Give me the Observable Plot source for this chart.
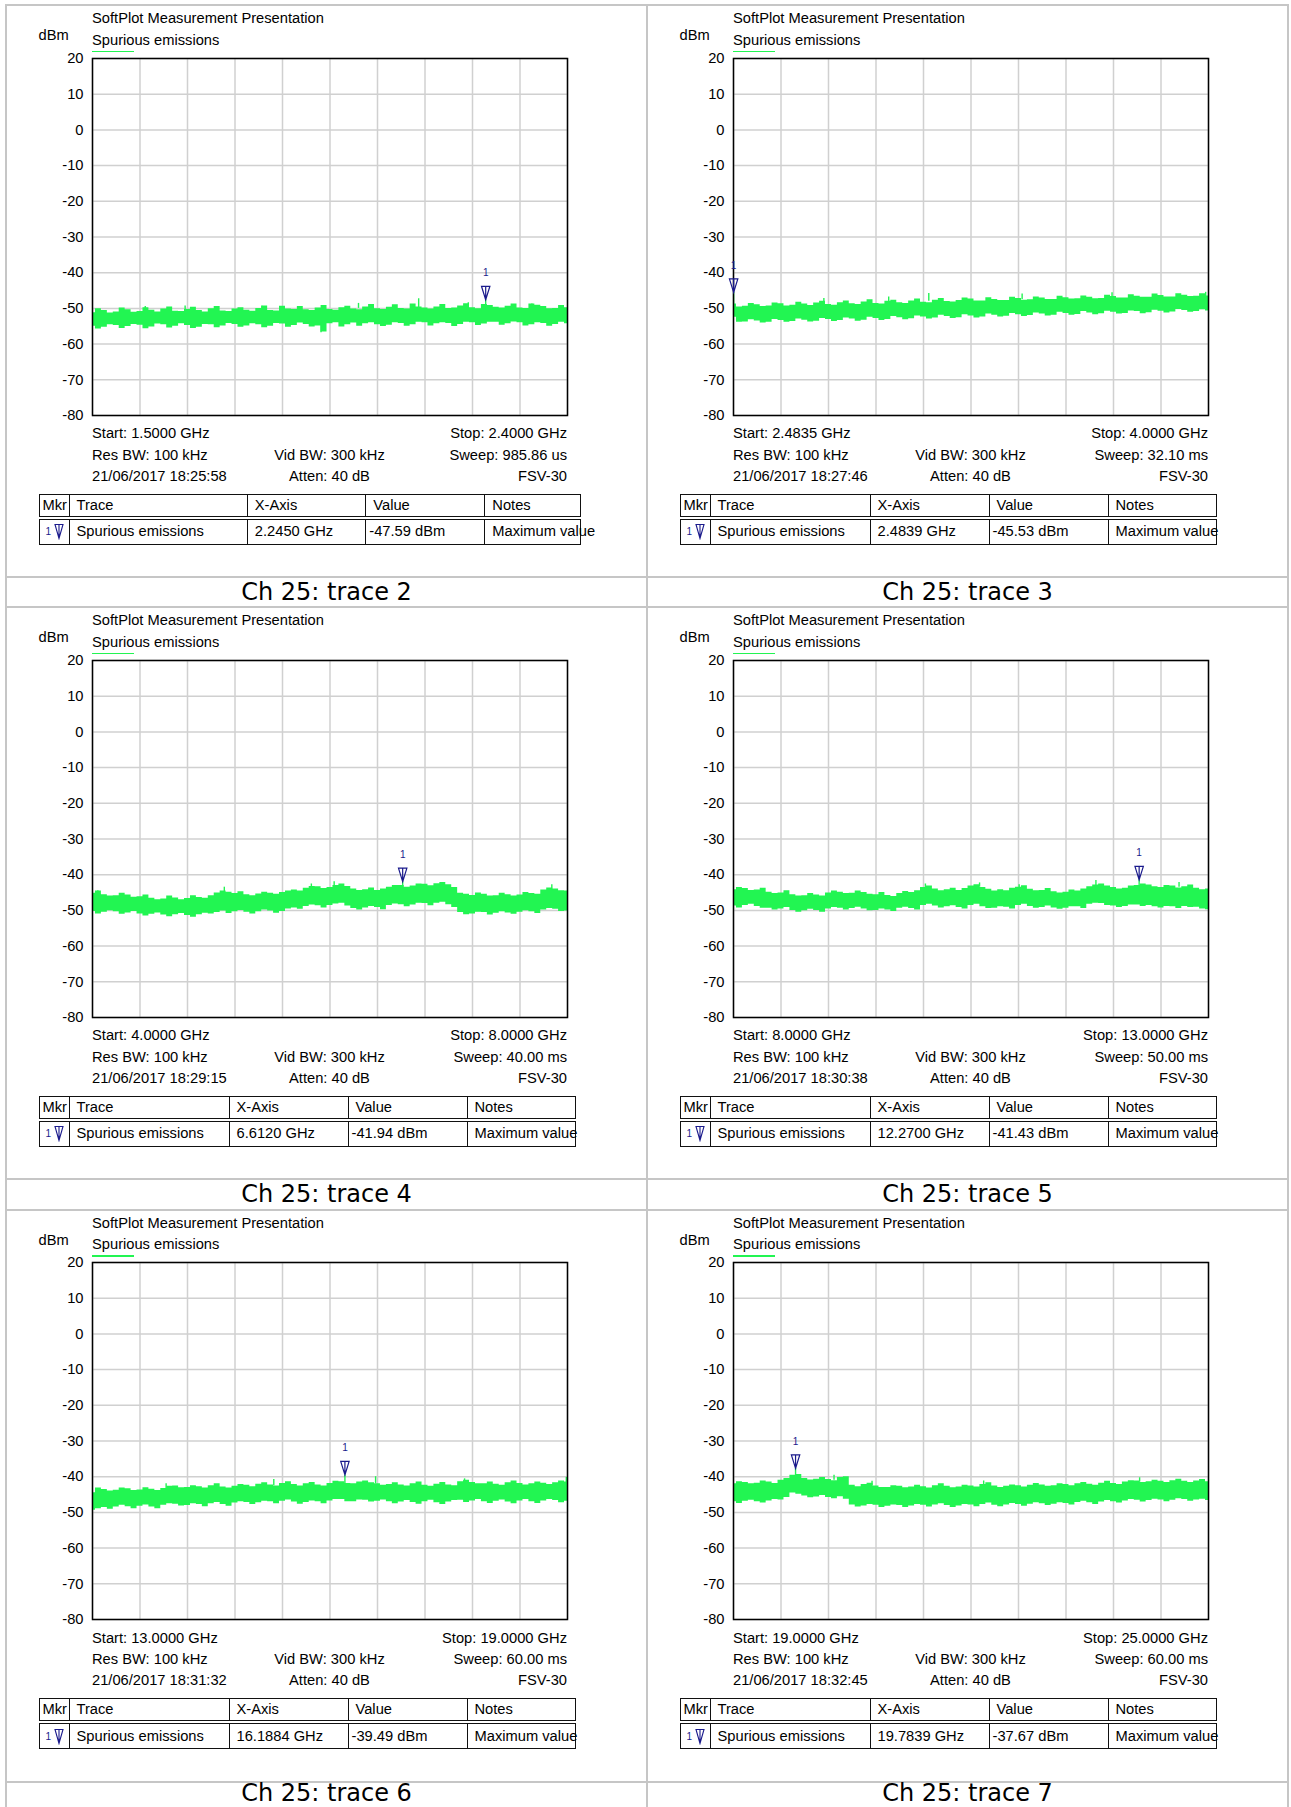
<!DOCTYPE html>
<html><head><meta charset="utf-8">
<script src="https://cdn.jsdelivr.net/npm/d3@7"></script>
<script src="https://cdn.jsdelivr.net/npm/@observablehq/plot@0.6"></script>
<style>
html,body{margin:0;padding:0;background:#fff;overflow:hidden;width:1291px;height:1807px;}
#page{position:relative;width:1291px;height:1807px;overflow:hidden;font-family:"Liberation Sans",Arial,sans-serif;color:#000;background:#fff;}
.ln{position:absolute;background:#c6c6c6;}
.cell{position:absolute;width:641px;height:572px;}
.t{position:absolute;font-size:14.7px;line-height:1;white-space:nowrap;transform:translateY(-50%);}
.cap{position:absolute;font-family:"DejaVu Sans",sans-serif;font-size:24px;line-height:0.78;text-align:center;width:641px;transform:translateY(-50%);}
.uline{position:absolute;height:1.6px;}
.svgwrap{position:absolute;left:0;}
table.mk{position:absolute;border-collapse:collapse;table-layout:fixed;font-size:14.7px;font-family:"Liberation Sans",Arial,sans-serif;}
table.mk td{border:1.5px solid #111;padding:0 0 0 7px;white-space:nowrap;overflow:visible;vertical-align:middle;line-height:1;}
table.mk tr.h td{height:21px;border-bottom:4px double #111;}
table.mk tr.b td{height:24px;}
table.mk td.m{padding-left:6px;}
table.mk tr.h td.m{padding-left:3px;}
</style>
</head><body><div id="page"></div>
<script>
// ---------------- data ----------------
const captions = ["Ch 25: trace 2","Ch 25: trace 3","Ch 25: trace 4","Ch 25: trace 5","Ch 25: trace 6","Ch 25: trace 7"];
const startGHz = [1.5, 2.4835, 4.0, 8.0, 13.0, 19.0];
const stopGHz  = [2.4, 4.0, 8.0, 13.0, 19.0, 25.0];
const sweeps   = ["985.86 us","32.10 ms","40.00 ms","50.00 ms","60.00 ms","60.00 ms"];
const stamps   = ["21/06/2017 18:25:58","21/06/2017 18:27:46","21/06/2017 18:29:15","21/06/2017 18:30:38","21/06/2017 18:31:32","21/06/2017 18:32:45"];
const markerGHz = [2.2450, 2.4839, 6.6120, 12.2700, 16.1884, 19.7839];
const markerDbm = [-47.59, -45.53, -41.94, -41.43, -39.49, -37.67];
const yTicks = [20, 10, 0, -10, -20, -30, -40, -50, -60, -70, -80];

// noise band envelopes (dBm), 81 readings evenly spaced across each sweep span
const trace2Hi = [
 -51.2,-50.1,-50.6,-51.3,-51.0,-49.9,-50.4,-51.1,-50.9,-49.8,
 -50.5,-51.0,-50.2,-49.6,-50.8,-50.9,-50.3,-49.7,-50.6,-51.0,
 -50.1,-49.5,-50.7,-50.9,-50.2,-49.8,-50.5,-50.8,-50.0,-49.3,
 -50.6,-50.7,-49.4,-50.2,-50.3,-49.5,-50.4,-50.6,-49.9,-49.2,
 -50.3,-50.5,-49.8,-49.4,-50.2,-50.4,-49.6,-48.9,-50.1,-50.3,
 -49.7,-49.0,-50.0,-50.2,-48.8,-49.6,-49.9,-50.2,-49.6,-48.9,
 -50.0,-49.9,-49.3,-48.7,-49.8,-50.1,-48.9,-49.2,-49.7,-49.9,
 -49.4,-48.8,-49.9,-50.0,-48.8,-49.1,-49.5,-50.1,-50.0,-49.2,
 -49.8];
const trace2Lo = [
 -55.0,-55.8,-55.3,-54.6,-54.8,-55.6,-55.1,-54.5,-54.7,-55.7,
 -55.2,-54.4,-54.6,-55.5,-55.0,-54.3,-54.8,-55.6,-55.3,-54.5,
 -54.6,-55.4,-54.9,-54.2,-54.5,-55.3,-54.9,-54.3,-54.6,-55.4,
 -55.0,-54.2,-54.4,-55.3,-54.8,-54.1,-54.5,-55.2,-54.9,-56.6,
 -54.3,-54.0,-55.2,-54.6,-54.1,-55.0,-54.3,-54.0,-54.6,-55.1,
 -54.7,-54.0,-54.2,-55.0,-54.6,-53.9,-54.0,-54.9,-54.3,-54.0,
 -54.2,-55.1,-54.5,-53.9,-54.0,-54.8,-54.4,-53.9,-53.9,-54.7,
 -54.3,-53.8,-54.0,-54.9,-54.6,-54.0,-54.2,-55.0,-54.5,-53.9,
 -54.3];
const trace3Hi = [
 -48.8,-49.6,-49.4,-48.6,-49.0,-49.5,-49.3,-48.5,-48.7,-49.3,
 -49.1,-48.3,-48.8,-49.2,-48.5,-48.0,-48.9,-49.1,-48.4,-47.9,
 -48.7,-48.9,-48.2,-47.6,-48.6,-48.8,-48.0,-47.7,-48.4,-48.6,
 -47.9,-47.4,-48.3,-48.4,-47.7,-47.2,-48.1,-48.2,-47.8,-47.1,
 -47.4,-47.9,-47.9,-47.0,-47.5,-47.8,-47.8,-46.9,-47.2,-47.7,
 -47.6,-46.8,-47.1,-47.5,-47.5,-46.6,-47.0,-47.4,-47.3,-46.5,
 -46.9,-47.3,-47.2,-46.3,-46.7,-47.1,-47.1,-46.2,-46.6,-46.9,
 -46.9,-46.0,-46.4,-46.8,-46.8,-45.9,-46.3,-46.7,-46.6,-45.9,
 -46.5];
const trace3Lo = [
 -52.5,-53.9,-53.8,-53.2,-53.5,-54.1,-53.9,-53.1,-53.4,-53.9,
 -53.7,-53.0,-53.3,-53.8,-53.6,-52.8,-53.1,-53.7,-53.4,-52.7,
 -53.0,-53.6,-53.3,-52.5,-52.8,-53.4,-53.1,-52.3,-52.6,-53.2,
 -52.9,-52.1,-52.4,-53.0,-52.7,-51.9,-52.3,-52.8,-52.6,-51.8,
 -52.1,-52.7,-52.4,-51.6,-51.9,-52.4,-52.2,-51.4,-51.8,-52.3,
 -52.0,-51.3,-51.6,-52.1,-51.9,-51.1,-51.4,-51.9,-51.7,-50.9,
 -51.3,-51.8,-51.5,-50.8,-51.1,-51.6,-51.4,-50.7,-50.9,-51.5,
 -51.2,-50.5,-50.8,-51.3,-51.0,-50.3,-50.6,-51.1,-50.9,-50.4,
 -50.7];
const trace4Hi = [
 -45.2,-44.6,-45.6,-46.0,-45.9,-45.2,-45.7,-46.3,-46.2,-45.7,
 -46.6,-47.0,-46.8,-46.0,-46.5,-47.0,-46.7,-45.9,-46.4,-46.6,
 -45.9,-45.1,-44.6,-44.9,-45.3,-44.8,-45.6,-45.9,-45.4,-44.9,
 -45.2,-45.5,-45.0,-44.6,-44.3,-44.6,-43.8,-43.3,-43.4,-43.9,
 -43.6,-43.0,-42.6,-43.3,-44.0,-44.4,-44.2,-43.7,-44.4,-44.0,
 -43.5,-43.0,-43.0,-43.5,-43.2,-42.6,-42.7,-43.1,-42.5,-42.2,
 -42.8,-43.6,-45.2,-45.5,-45.8,-45.1,-45.5,-46.0,-45.9,-45.2,
 -45.6,-46.0,-45.7,-45.0,-45.3,-45.5,-44.3,-43.7,-44.0,-44.5,
 -44.6];
const trace4Lo = [
 -50.3,-51.0,-50.5,-50.1,-50.4,-51.1,-50.7,-50.3,-51.0,-51.6,
 -51.1,-50.7,-51.3,-51.8,-51.2,-50.9,-51.4,-51.9,-51.2,-50.8,
 -51.0,-50.6,-50.2,-50.9,-50.4,-50.0,-50.5,-51.0,-50.4,-49.9,
 -50.2,-50.8,-50.3,-49.6,-49.3,-49.7,-48.9,-48.5,-48.7,-49.3,
 -48.6,-48.2,-48.0,-48.8,-49.5,-49.9,-49.3,-48.9,-49.2,-49.8,
 -48.6,-48.2,-48.4,-49.0,-48.5,-48.0,-48.1,-48.7,-48.0,-47.7,
 -48.4,-49.2,-50.6,-51.2,-51.0,-50.5,-50.6,-51.3,-50.8,-50.4,
 -50.7,-51.1,-50.5,-50.1,-50.4,-50.9,-49.9,-49.5,-49.7,-50.3,
 -50.2];
const trace5Hi = [
 -44.2,-43.6,-43.9,-44.4,-44.3,-43.8,-44.9,-45.3,-45.1,-44.5,
 -45.6,-46.0,-45.9,-45.3,-45.7,-46.0,-45.1,-44.6,-44.9,-45.3,
 -45.2,-44.6,-45.0,-45.5,-45.6,-45.0,-45.8,-46.1,-45.3,-44.7,
 -45.0,-44.5,-43.6,-43.2,-44.0,-44.5,-44.2,-43.8,-44.4,-43.9,
 -43.2,-42.8,-43.6,-44.1,-44.6,-44.2,-44.5,-43.8,-43.5,-43.1,
 -44.1,-44.5,-44.4,-43.9,-44.8,-45.1,-44.9,-44.3,-44.6,-44.0,
 -43.4,-42.9,-42.6,-43.2,-43.6,-44.0,-43.8,-43.2,-43.0,-42.6,
 -42.9,-43.4,-43.6,-43.0,-43.2,-43.7,-43.4,-42.9,-43.8,-44.2,
 -44.0];
const trace5Lo = [
 -48.8,-49.3,-48.6,-48.3,-48.9,-49.4,-49.4,-49.9,-49.6,-49.2,
 -50.0,-50.5,-50.1,-49.7,-50.0,-50.5,-49.6,-49.2,-49.4,-49.9,
 -49.5,-49.1,-49.6,-50.1,-50.0,-49.6,-49.9,-50.3,-49.4,-49.1,
 -49.5,-49.9,-48.6,-48.3,-48.8,-49.3,-49.0,-48.7,-49.2,-49.6,
 -48.6,-48.3,-49.0,-49.5,-49.4,-49.0,-49.1,-49.6,-48.6,-48.3,
 -48.9,-49.4,-49.2,-48.8,-49.3,-49.7,-49.4,-49.0,-49.0,-49.5,
 -48.3,-48.0,-48.1,-48.6,-48.8,-49.2,-48.9,-48.5,-48.5,-48.9,
 -48.6,-49.0,-49.3,-48.9,-49.0,-49.5,-48.9,-49.2,-49.1,-49.6,
 -49.8];
const trace6Hi = [
 -44.5,-43.2,-43.6,-44.0,-43.8,-43.2,-43.4,-43.9,-43.7,-43.1,
 -43.5,-43.9,-43.3,-42.7,-42.6,-43.1,-43.0,-42.5,-42.8,-43.2,
 -42.5,-42.0,-42.9,-43.2,-42.7,-42.2,-42.4,-42.8,-42.1,-41.7,
 -42.3,-42.6,-41.9,-41.4,-42.2,-42.6,-42.0,-41.6,-42.3,-42.6,
 -41.9,-41.3,-41.4,-41.9,-42.0,-41.5,-41.2,-41.7,-42.0,-42.4,
 -42.2,-41.7,-42.3,-42.6,-42.0,-41.5,-42.4,-42.7,-42.1,-41.6,
 -42.3,-42.5,-41.4,-41.0,-41.6,-42.0,-42.0,-41.5,-42.1,-42.4,
 -41.7,-41.2,-41.9,-42.3,-42.0,-41.5,-41.8,-42.2,-41.7,-41.2,
 -41.5];
const trace6Lo = [
 -49.4,-49.0,-48.6,-49.1,-48.5,-48.0,-48.4,-49.0,-48.3,-47.9,
 -48.5,-49.0,-48.0,-47.6,-47.7,-48.2,-48.1,-47.6,-47.8,-48.4,
 -47.6,-47.2,-47.8,-48.3,-47.4,-47.0,-47.2,-47.8,-47.3,-46.9,
 -47.0,-47.6,-46.9,-46.5,-47.1,-47.7,-47.2,-46.8,-47.0,-47.6,
 -46.8,-46.4,-46.4,-47.0,-47.0,-46.5,-46.6,-47.1,-46.9,-46.5,
 -47.0,-47.6,-47.1,-46.7,-47.2,-47.7,-47.0,-46.6,-47.3,-47.8,
 -47.1,-46.7,-46.6,-47.2,-46.8,-46.4,-47.0,-47.5,-46.9,-46.5,
 -47.1,-47.6,-46.8,-46.4,-47.0,-47.5,-46.8,-46.4,-46.7,-47.3,
 -46.9];
const trace7Hi = [
 -42.0,-41.4,-41.6,-42.0,-41.8,-41.2,-41.5,-41.9,-41.0,-40.5,
 -39.6,-39.4,-40.5,-40.9,-40.7,-40.2,-40.8,-41.1,-40.2,-40.0,
 -42.4,-42.8,-42.2,-41.8,-42.6,-43.0,-43.0,-42.5,-42.7,-43.1,
 -42.9,-42.4,-42.8,-43.2,-42.5,-42.0,-42.7,-43.1,-42.9,-42.4,
 -42.6,-42.9,-42.2,-41.7,-42.6,-43.0,-42.7,-42.3,-42.5,-42.9,
 -42.4,-41.9,-42.3,-42.7,-42.5,-42.0,-42.2,-42.5,-42.0,-41.6,
 -42.1,-42.4,-41.8,-41.3,-41.9,-42.2,-41.5,-41.1,-41.2,-41.6,
 -41.4,-41.0,-41.3,-41.6,-41.1,-40.7,-41.3,-41.6,-41.2,-40.8,
 -41.4];
const trace7Lo = [
 -47.0,-47.5,-46.9,-46.6,-47.0,-47.4,-46.8,-46.4,-46.5,-45.8,
 -44.6,-44.9,-45.4,-45.9,-45.7,-45.3,-45.8,-46.2,-45.6,-46.3,
 -47.9,-48.5,-48.2,-47.8,-48.0,-48.6,-48.3,-47.9,-48.1,-48.6,
 -48.2,-47.8,-48.0,-48.5,-47.9,-47.6,-48.1,-48.6,-48.2,-47.8,
 -47.9,-48.4,-47.8,-47.4,-48.0,-48.4,-47.9,-47.5,-47.8,-48.3,
 -47.7,-47.3,-47.6,-48.1,-47.7,-47.3,-47.5,-47.9,-47.2,-46.9,
 -47.3,-47.8,-47.1,-46.7,-47.0,-47.4,-46.8,-46.4,-46.6,-47.1,
 -46.7,-46.3,-46.5,-47.0,-46.6,-46.2,-46.4,-46.9,-46.5,-46.3,
 -46.7];

// isolated spikes: [GHz, from dBm, to dBm]
const trace2Spikes = [[1.600,-50.5,-49.5],[1.6755,-50.5,-49.3],[1.821,-50.5,-49.4],[1.933,-54.0,-56.8],[2.004,-50.0,-48.6],[2.118,-50.5,-47.3],[2.212,-50.0,-48.4],[2.245,-50.0,-47.59],[2.3325,-50.0,-48.8]];
const trace3Spikes = [[2.4839,-52.0,-45.53],[2.772,-49.0,-47.2],[2.979,-48.5,-46.8],[3.107,-48.0,-45.8],[3.405,-47.5,-46.0],[3.692,-47.0,-45.6],[3.991,-47.0,-45.5]];
const trace4Spikes = [[4.045,-46.0,-44.5],[5.11,-45.0,-43.5],[5.843,-44.0,-42.6],[6.035,-43.5,-42.0],[6.612,-44.0,-41.94],[7.868,-44.5,-42.8]];
const trace5Spikes = [[10.02,-44.0,-42.6],[10.59,-43.5,-42.3],[11.007,-44.0,-42.8],[11.815,-43.5,-41.6],[12.27,-43.5,-41.43],[12.69,-43.5,-42.2]];
const trace6Spikes = [[13.93,-43.5,-42.0],[15.29,-42.5,-40.8],[16.1884,-42.0,-39.49],[16.576,-42.0,-40.0],[17.70,-42.0,-40.6],[18.985,-42.0,-40.2]];
const trace7Spikes = [[19.7839,-40.0,-37.67],[20.27,-41.0,-39.6],[20.75,-42.5,-41.3],[22.16,-42.5,-41.2],[24.13,-41.5,-40.3]];

const traceHi = [trace2Hi, trace3Hi, trace4Hi, trace5Hi, trace6Hi, trace7Hi];
const traceLo = [trace2Lo, trace3Lo, trace4Lo, trace5Lo, trace6Lo, trace7Lo];
const traceSpikes = [trace2Spikes, trace3Spikes, trace4Spikes, trace5Spikes, trace6Spikes, trace7Spikes];

// ---------------- drawing ----------------
const GREEN = "#22f552";
const NAVY = "#1a1a8c";
const page = document.getElementById("page");

function el(tag, cls, parent, css, html) {
  const e = document.createElement(tag);
  if (cls) e.className = cls;
  if (css) Object.assign(e.style, css);
  if (html !== undefined) e.innerHTML = html;
  parent.appendChild(e);
  return e;
}

const markerSymbol = {
  draw(ctx) {
    ctx.moveTo(0, 0); ctx.lineTo(-4.2, -13.5); ctx.lineTo(4.2, -13.5); ctx.closePath();
    ctx.moveTo(0, 0); ctx.lineTo(0, -13.5);
  }
};

function chart(i) {
  const s = startGHz[i], e = stopGHz[i], hi = traceHi[i], lo = traceLo[i];
  const n = Math.min(hi.length, lo.length);
  const band = d3.range(n).map(k => ({f: s + k * (e - s) / (n - 1), hi: hi[k], lo: lo[k]}));
  const xt = d3.range(11).map(k => s + k * (e - s) / 10);
  const mk = [{f: markerGHz[i], v: markerDbm[i]}];
  return Plot.plot({
    width: 641, height: 377,
    marginLeft: 86, marginRight: 80, marginTop: 10, marginBottom: 10,
    x: {domain: [s, e], axis: null},
    y: {domain: [-80, 20], axis: null, label: null},
    style: {fontFamily: "Liberation Sans, Arial, sans-serif", fontSize: "14.7px", background: "transparent", overflow: "visible", color: "#000"},
    marks: [
      Plot.gridY(yTicks, {stroke: "#d0d0d0", strokeOpacity: 1, strokeWidth: 1.5}),
      Plot.gridX(xt, {stroke: "#d0d0d0", strokeOpacity: 1, strokeWidth: 1.5}),
      Plot.areaY(band, {x: "f", y1: "lo", y2: "hi", curve: "step", fill: GREEN}),
      Plot.ruleX(traceSpikes[i], {x: d => d[0], y1: d => d[1], y2: d => d[2], stroke: GREEN, strokeWidth: 1.4}),
      Plot.axisY(yTicks, {anchor: "left", tickSize: 0, tickPadding: 9, fontSize: 14.7, label: null, tickFormat: d => String(d)}),
      Plot.frame({stroke: "#000", strokeWidth: 1.5}),
      Plot.dot(mk, {x: "f", y: "v", symbol: markerSymbol, stroke: NAVY, fill: "none", strokeWidth: 1.2, r: 5}),
      Plot.text(mk, {x: "f", y: "v", text: () => "1", dy: -27, fill: NAVY, fontSize: 10})
    ]
  });
}

// page grid lines
const rowTop = r => 5 + r * 602.3;
const colLeft = c => 6 + c * 641;
[6, 647, 1288].forEach(x => el("div", "ln", page, {left: (x - 1) + "px", top: "4px", width: "2px", height: "1810px"}));
for (let r = 0; r < 3; r++) {
  [rowTop(r), rowTop(r) + 572, rowTop(r) + 602.3].forEach(y =>
    el("div", "ln", page, {left: "5px", top: (y - 1) + "px", width: "1284px", height: "2px"}));
}

const tableCols = [[30, 178.3, 118.5, 119, 96.2], [30, 160, 119, 119, 108.5], [30, 160, 119, 119, 108.5],
                   [30, 160, 119, 119, 108.5], [30, 160, 119, 119, 108.5], [30, 160, 119, 119, 108.5]];

const tableGlyph = '<svg width="10" height="17" style="vertical-align:middle;margin-left:3px" viewBox="0 0 10 17"><path d="M1,1.5 L9,1.5 L5,15.5 Z M5,1.5 L5,15.5" fill="none" stroke="' + NAVY + '" stroke-width="1.1"/></svg>';

for (let i = 0; i < 6; i++) {
  const r = Math.floor(i / 2), c = i % 2;
  const cell = el("div", "cell", page, {left: colLeft(c) + "px", top: rowTop(r) + "px"});
  el("div", "t", cell, {left: "86px", top: "13px"}, "SoftPlot Measurement Presentation");
  el("div", "t", cell, {left: "32.5px", top: "30px"}, "dBm");
  el("div", "t", cell, {left: "86px", top: "34.5px"}, "Spurious emissions");
  el("div", "uline", cell, {left: "86px", top: "45.5px", width: "42px", background: GREEN});
  const w = el("div", "svgwrap", cell, {top: "42.8px"});
  w.appendChild(chart(i));
  // footer
  el("div", "t", cell, {left: "86px", top: "428px"}, "Start: " + startGHz[i].toFixed(4) + " GHz");
  el("div", "t", cell, {left: "561px", top: "428px", transform: "translate(-100%,-50%)"}, "Stop: " + stopGHz[i].toFixed(4) + " GHz");
  el("div", "t", cell, {left: "86px", top: "449.5px"}, "Res BW: 100 kHz");
  el("div", "t", cell, {left: "323.5px", top: "449.5px", transform: "translate(-50%,-50%)"}, "Vid BW: 300 kHz");
  el("div", "t", cell, {left: "561px", top: "449.5px", transform: "translate(-100%,-50%)"}, "Sweep: " + sweeps[i]);
  el("div", "t", cell, {left: "86px", top: "470.5px"}, stamps[i]);
  el("div", "t", cell, {left: "323.5px", top: "470.5px", transform: "translate(-50%,-50%)"}, "Atten: 40 dB");
  el("div", "t", cell, {left: "561px", top: "470.5px", transform: "translate(-100%,-50%)"}, "FSV-30");
  // marker table
  const cols = tableCols[i];
  const tw = cols.reduce((a, b) => a + b, 0);
  const tb = el("table", "mk", cell, {left: "32.5px", top: "488.5px", width: tw + "px"});
  const cg = el("colgroup", null, tb);
  cols.forEach(cw => el("col", null, cg, {width: cw + "px"}));
  const h = el("tr", "h", tb);
  el("td", "m", h, null, "Mkr"); el("td", null, h, null, "Trace"); el("td", null, h, null, "X-Axis");
  el("td", null, h, null, "Value"); el("td", null, h, null, "Notes");
  const b = el("tr", "b", tb);
  el("td", "m", b, null, '<span style="color:' + NAVY + ';font-size:10px;vertical-align:middle">1</span>' + tableGlyph);
  el("td", null, b, null, "Spurious emissions");
  el("td", null, b, null, markerGHz[i].toFixed(4) + " GHz");
  el("td", null, b, {paddingLeft: "3px"}, markerDbm[i].toFixed(2) + " dBm");
  el("td", null, b, null, "Maximum value");
  // caption (last row nudged up so it stays inside the page)
  el("div", "cap", page, {left: colLeft(c) + "px", top: (rowTop(r) + (r === 2 ? 583 : 587)) + "px"}, captions[i]);
}
</script>
</body></html>
